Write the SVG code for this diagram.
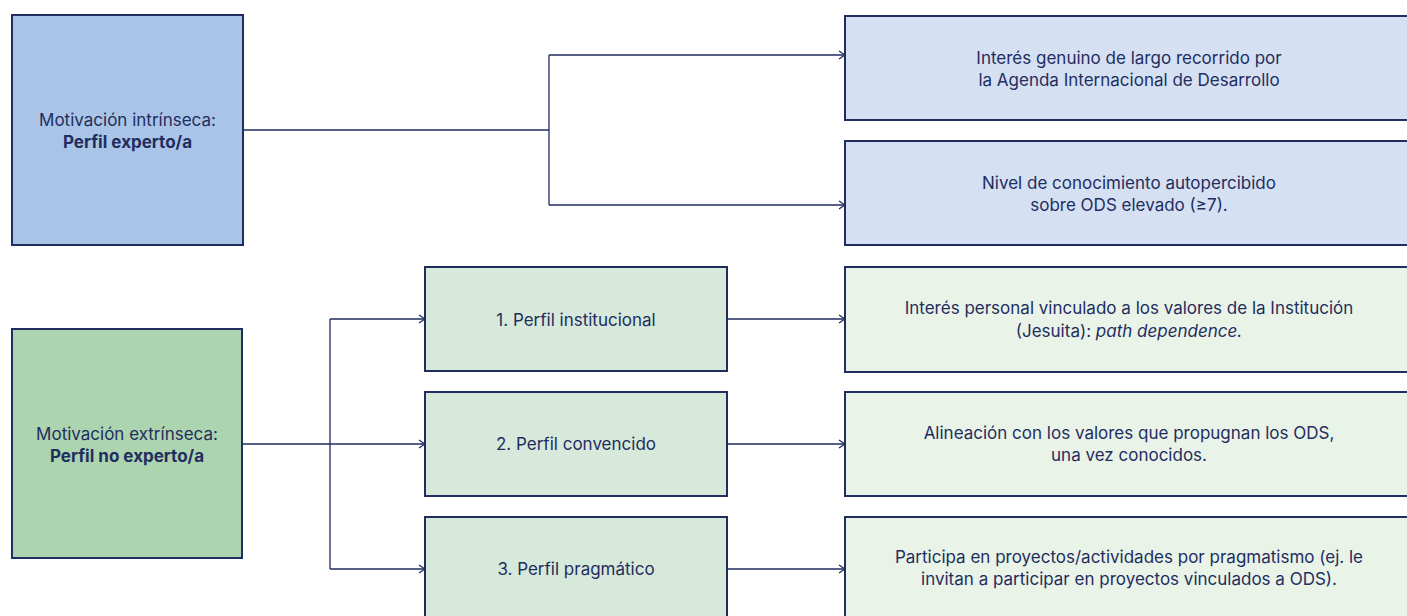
<svg xmlns="http://www.w3.org/2000/svg" width="1407" height="616" viewBox="0 0 1407 616">
  <style>
    .box { stroke: #1f2d5f; stroke-width: 2; }
    .blue-main { fill: #a9c4e6; }
    .blue-sub { fill: #d5e0f3; }
    .green-main { fill: #acd4ae; }
    .green-mid { fill: #d7e9da; }
    .green-sub { fill: #e9f3e8; }
    text { font-family: "Inter", "Noto Sans", "Liberation Sans", sans-serif; font-size: 17px; fill: #1f2d5f; text-anchor: middle; }
    .b { font-weight: 700; }
    .i { font-style: italic; }
    .conn { fill: none; stroke: #1f2d5f; stroke-width: 1.3; }
  </style>
  <defs>
    <marker id="chev" viewBox="0 0 10 10" refX="9" refY="5" markerWidth="10" markerHeight="10" markerUnits="userSpaceOnUse" orient="auto">
      <path d="M3,1 L9,5 L3,9" fill="none" stroke="#1f2d5f" stroke-width="1.3"/>
    </marker>
  </defs>

  <g id="connectors">
    <path class="conn" d="M243,130 H549 M549,55 V205"/>
    <path class="conn" d="M549,55 H845" marker-end="url(#chev)"/>
    <path class="conn" d="M549,205 H845" marker-end="url(#chev)"/>
    <path class="conn" d="M330,319 V569"/>
    <path class="conn" d="M242,444 H425" marker-end="url(#chev)"/>
    <path class="conn" d="M330,319 H425" marker-end="url(#chev)"/>
    <path class="conn" d="M330,569 H425" marker-end="url(#chev)"/>
    <path class="conn" d="M727,319 H845" marker-end="url(#chev)"/>
    <path class="conn" d="M727,444 H845" marker-end="url(#chev)"/>
    <path class="conn" d="M727,569 H845" marker-end="url(#chev)"/>
  </g>

  <g id="intrinseca">
    <rect class="box blue-main" x="12" y="15" width="231" height="230"/>
    <text x="127.5" y="126">Motivación intrínseca:</text>
    <text class="b" x="127.5" y="148">Perfil experto/a</text>
  </g>
  <g id="interes-genuino">
    <rect class="box blue-sub" x="845" y="16" width="570" height="104"/>
    <text x="1129" y="64">Interés genuino de largo recorrido por</text>
    <text x="1129" y="86">la Agenda Internacional de Desarrollo</text>
  </g>
  <g id="nivel-conocimiento">
    <rect class="box blue-sub" x="845" y="141" width="570" height="104"/>
    <text x="1129" y="189">Nivel de conocimiento autopercibido</text>
    <text x="1129" y="211">sobre ODS elevado (≥7).</text>
  </g>

  <g id="extrinseca">
    <rect class="box green-main" x="12" y="329" width="230" height="229"/>
    <text x="127" y="440">Motivación extrínseca:</text>
    <text class="b" x="127" y="462">Perfil no experto/a</text>
  </g>
  <g id="perfil-institucional">
    <rect class="box green-mid" x="425" y="267" width="302" height="104"/>
    <text x="576" y="326">1. Perfil institucional</text>
  </g>
  <g id="perfil-convencido">
    <rect class="box green-mid" x="425" y="392" width="302" height="104"/>
    <text x="576" y="450">2. Perfil convencido</text>
  </g>
  <g id="perfil-pragmatico">
    <rect class="box green-mid" x="425" y="517" width="302" height="110"/>
    <text x="576" y="575">3. Perfil pragmático</text>
  </g>
  <g id="interes-personal">
    <rect class="box green-sub" x="845" y="267" width="570" height="105"/>
    <text x="1129" y="314">Interés personal vinculado a los valores de la Institución</text>
    <text x="1129" y="337">(Jesuita): <tspan class="i">path dependence.</tspan></text>
  </g>
  <g id="alineacion">
    <rect class="box green-sub" x="845" y="392" width="570" height="104"/>
    <text x="1129" y="439">Alineación con los valores que propugnan los ODS,</text>
    <text x="1129" y="461">una vez conocidos.</text>
  </g>
  <g id="participa">
    <rect class="box green-sub" x="845" y="517" width="570" height="110"/>
    <text x="1129" y="563">Participa en proyectos/actividades por pragmatismo (ej. le</text>
    <text x="1129" y="585">invitan a participar en proyectos vinculados a ODS).</text>
  </g>
</svg>
